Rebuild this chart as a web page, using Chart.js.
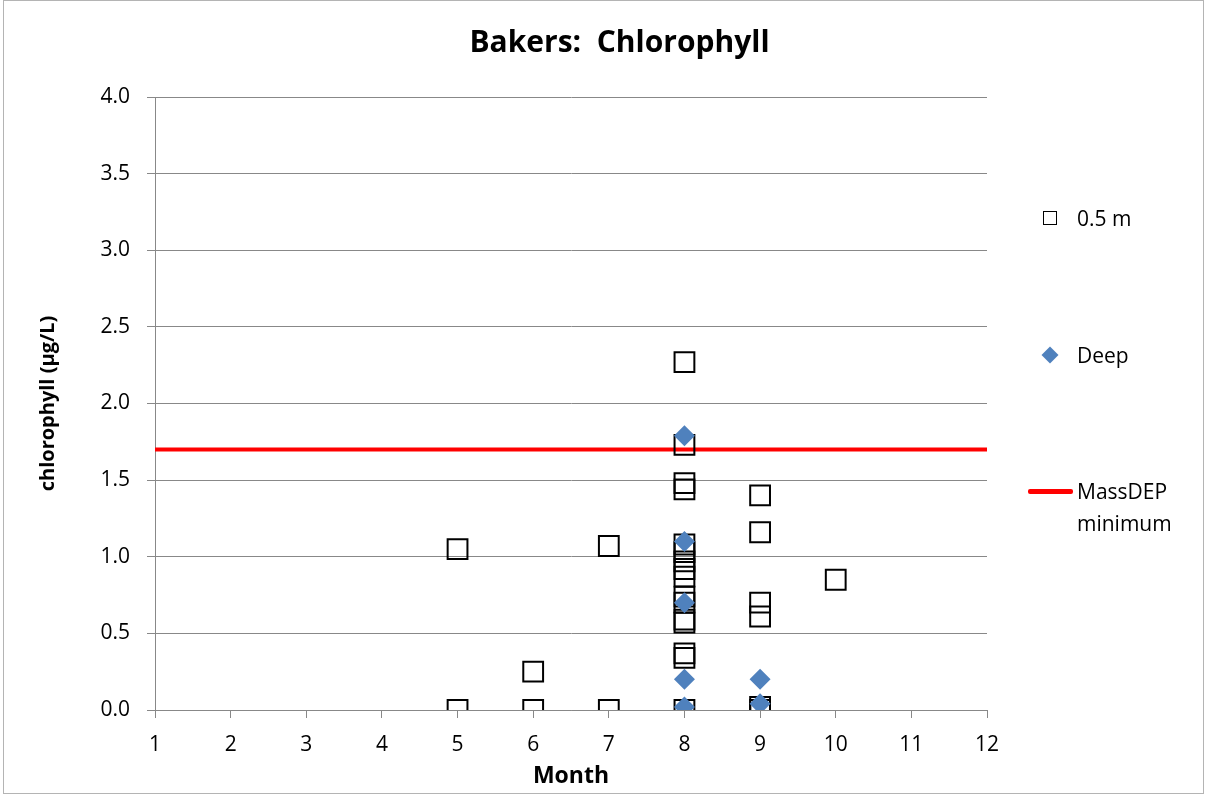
<!DOCTYPE html>
<html>
<head>
<meta charset="utf-8">
<script src="https://cdn.jsdelivr.net/npm/chart.js@4.4.1/dist/chart.umd.min.js"></script>
<style>
  body { margin: 0; background: #fff; }
  #wrap { position: relative; width: 1205px; height: 795px; }
  #frame { position: absolute; left: 3px; top: 0; width: 1199px; height: 792px; border: 1px solid #b4b4b4; pointer-events: none; }
  #legend { position: absolute; left: 1020px; top: 0; font-family: "Open Sans", sans-serif; font-size: 21px; color: #000; }
  .item { position: absolute; left: 0; white-space: nowrap; }
  .txt { position: absolute; left: 57px; top: -16px; line-height: 32px; }
  .sq { position: absolute; left: 23px; top: -7px; width: 12px; height: 12px; border: 1.5px solid #000; }
  .dia { position: absolute; left: 24px; top: -6px; width: 12px; height: 12px; background: #4f81bd; transform: rotate(45deg); }
  .ln { position: absolute; left: 8px; top: -2px; width: 45px; height: 5px; background: #ff0000; border-radius: 2px; }
</style>
</head>
<body>
<div id="wrap">
  <canvas id="chlorophyll-chart" width="1205" height="795"></canvas>
  <div id="frame"></div>
  <div id="legend">
    <div class="item" style="top:218px"><span class="sq"></span><span class="txt">0.5 m</span></div>
    <div class="item" style="top:355px"><span class="dia"></span><span class="txt">Deep</span></div>
    <div class="item" style="top:491px"><span class="ln"></span><span class="txt">MassDEP<br>minimum</span></div>
  </div>
</div>
<script>
// data
var shallowMonth = [5, 5, 6, 6, 7, 7,
    8, 8, 8, 8, 8, 8, 8, 8, 8, 8, 8, 8, 8, 8, 8, 8,
    9, 9, 9, 9, 9, 9, 10];
var shallowChl = [1.05, 0.0, 0.25, 0.0, 1.07, 0.0,
    2.27, 1.73, 1.48, 1.44, 1.08, 1.03, 0.97, 0.92, 0.87, 0.74, 0.70, 0.59, 0.57, 0.37, 0.34, 0.0,
    1.40, 1.16, 0.70, 0.61, 0.02, 0.0, 0.85];

var deepMonth = [8, 8, 8, 8, 8, 9, 9];
var deepChl = [1.79, 1.10, 0.70, 0.20, 0.02, 0.20, 0.04];

var minMonth = [1, 12];
var minChl = [1.7, 1.7];

var yTicks = ["0.0", "0.5", "1.0", "1.5", "2.0", "2.5", "3.0", "3.5", "4.0"];

function toPoints(xs, ys) {
    return xs.map(function (x, i) { return { x: x, y: ys[i] }; });
}

Chart.defaults.font.family = "'Open Sans', sans-serif";
Chart.defaults.color = "#000";

var ctx = document.getElementById("chlorophyll-chart");

var chart = new Chart(ctx, {
    type: "scatter",
    data: {
        datasets: [
            {
                label: "0.5 m",
                data: toPoints(shallowMonth, shallowChl),
                pointStyle: "rect",
                pointRadius: 14,
                pointBorderWidth: 2,
                pointBorderColor: "#000",
                pointBackgroundColor: "rgba(255,255,255,0)",
                order: 2
            },
            {
                label: "Deep",
                data: toPoints(deepMonth, deepChl),
                pointStyle: "rectRot",
                pointRadius: 10.5,
                pointBorderWidth: 0,
                pointBackgroundColor: "#4f81bd",
                pointBorderColor: "#4f81bd",
                order: 1
            },
            {
                label: "MassDEP minimum",
                type: "line",
                data: toPoints(minMonth, minChl),
                borderColor: "#ff0000",
                borderWidth: 4,
                pointRadius: 0,
                order: 3
            }
        ]
    },
    options: {
        responsive: false,
        animation: false,
        layout: { padding: { left: 34, right: 0, top: 0, bottom: 2 } },
        plugins: {
            legend: { display: false },
            tooltip: { enabled: false },
            title: {
                display: true,
                text: "Bakers:  Chlorophyll",
                font: { size: 30, weight: "bold" },
                color: "#000",
                padding: { top: 25, bottom: 36 }
            }
        },
        scales: {
            x: {
                type: "linear",
                min: 1,
                max: 12,
                afterFit: function (scale) { scale.height = 83; },
                ticks: { stepSize: 1, font: { size: 21 }, color: "#000", padding: 14 },
                grid: { drawOnChartArea: false, color: "#888", tickLength: 8 },
                border: { color: "#888", width: 1 },
                title: { display: true, text: "Month", font: { size: 23, weight: "bold" }, color: "#000", padding: { top: 4, bottom: 3 } }
            },
            y: {
                min: 0,
                max: 4,
                afterFit: function (scale) { scale.width = 121; },
                ticks: {
                    stepSize: 0.5,
                    font: { size: 21 },
                    color: "#000",
                    padding: 17,
                    callback: function (v, i) { return yTicks[i]; }
                },
                grid: { color: "#888", tickLength: 8 },
                border: { color: "#888", width: 1 },
                title: { display: true, text: "chlorophyll (µg/L)", font: { size: 20, weight: "bold" }, color: "#000", padding: { top: 2, bottom: 4 } }
            },
            // empty axis on the right that keeps room for the legend
            side: {
                type: "linear",
                position: "right",
                display: true,
                afterFit: function (scale) { scale.width = 218; },
                ticks: { display: false },
                grid: { display: false },
                border: { display: false }
            }
        }
    }
});
</script>
</body>
</html>
